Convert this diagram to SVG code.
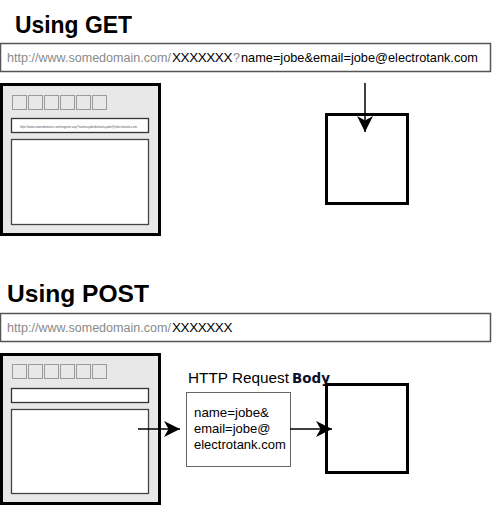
<svg xmlns="http://www.w3.org/2000/svg" width="500" height="525" viewBox="0 0 500 525">
<style>
.title{font-family:"Liberation Sans",Arial,sans-serif;font-weight:bold;font-size:24px;fill:#000}
.url{font-family:"Liberation Sans",Arial,sans-serif;font-size:12.5px;fill:#8a8a8a}
.xs{font-family:"Liberation Sans",Arial,sans-serif;font-size:13px;fill:#000;letter-spacing:-0.4px}
.blk{font-family:"Liberation Sans",Arial,sans-serif;font-size:13px;fill:#000}
.bar{fill:#fff;stroke:#555;stroke-width:1.5}
.frame{fill:#e8e8e8;stroke:#000;stroke-width:3}
.tab{fill:#e8e8e8;stroke:#9a9a9a;stroke-width:1}
.addr{fill:#fff;stroke:#333;stroke-width:1.3}
.content{fill:#fff;stroke:#444;stroke-width:1.3}
.server{fill:#fff;stroke:#000;stroke-width:3}
.conn{stroke:#000;stroke-width:1.5;fill:none}
.req{fill:#fff;stroke:#666;stroke-width:1}
.lbl{font-family:"Liberation Sans",Arial,sans-serif;font-size:15.3px;fill:#000}
.body{font-family:"DejaVu Sans",Tahoma,sans-serif;font-weight:bold;font-size:13.5px;fill:#0a1030}
</style>
<defs>
<marker id="arr" markerUnits="userSpaceOnUse" markerWidth="16" markerHeight="16" viewBox="0 0 14 14" refX="14" refY="7" orient="auto">
<path d="M0,0 L14,7 L0,14 L4,7 z" fill="#000"/>
</marker>
</defs>

<g id="get-title"><text class="title" x="15" y="33" textLength="117" lengthAdjust="spacingAndGlyphs">Using GET</text></g>

<g id="get-url">
<rect class="bar" x="0.5" y="43.5" width="490" height="28"/>
<text class="url" x="7" y="62" textLength="164" lengthAdjust="spacingAndGlyphs">http://www.somedomain.com/</text>
<text class="xs" x="172" y="62" textLength="60" lengthAdjust="spacingAndGlyphs">XXXXXXX</text>
<text class="url" x="233" y="62">?</text>
<text class="blk" x="241" y="62" textLength="237" lengthAdjust="spacingAndGlyphs">name=jobe&amp;email=jobe@electrotank.com</text>
</g>

<g id="get-browser">
<rect class="frame" x="1.5" y="84.5" width="158" height="150"/>
<rect class="tab" x="12.5" y="95.5" width="14" height="14"/>
<rect class="tab" x="28.5" y="95.5" width="14" height="14"/>
<rect class="tab" x="44.5" y="95.5" width="14" height="14"/>
<rect class="tab" x="60.5" y="95.5" width="14" height="14"/>
<rect class="tab" x="76.5" y="95.5" width="14" height="14"/>
<rect class="tab" x="92.5" y="95.5" width="14" height="14"/>
<rect class="addr" x="11.5" y="118.5" width="137" height="14"/>
<text x="20" y="127.5" font-family="Liberation Sans,Arial,sans-serif" font-size="3.5" fill="#555" textLength="117" lengthAdjust="spacingAndGlyphs">http://www.somedomain.com/register.asp?name=jobe&amp;email=jobe@electrotank.com</text>
<rect class="content" x="11.5" y="139.5" width="137" height="85"/>
</g>

<g id="get-server"><rect class="server" x="326.5" y="114.5" width="81" height="89"/></g>

<g id="post-title"><text class="title" x="7" y="302" textLength="142" lengthAdjust="spacingAndGlyphs">Using POST</text></g>

<g id="post-url">
<rect class="bar" x="0.5" y="313.5" width="490" height="28"/>
<text class="url" x="7" y="332" textLength="164" lengthAdjust="spacingAndGlyphs">http://www.somedomain.com/</text>
<text class="xs" x="172" y="332" textLength="60" lengthAdjust="spacingAndGlyphs">XXXXXXX</text>
</g>

<g id="post-browser">
<rect class="frame" x="1.5" y="354.5" width="158" height="149"/>
<rect class="tab" x="12.5" y="364.5" width="14" height="14"/>
<rect class="tab" x="28.5" y="364.5" width="14" height="14"/>
<rect class="tab" x="44.5" y="364.5" width="14" height="14"/>
<rect class="tab" x="60.5" y="364.5" width="14" height="14"/>
<rect class="tab" x="76.5" y="364.5" width="14" height="14"/>
<rect class="tab" x="92.5" y="364.5" width="14" height="14"/>
<rect class="addr" x="11.5" y="388.5" width="137" height="14"/>
<rect class="content" x="11.5" y="409.5" width="137" height="84"/>
</g>

<g id="http-request">
<text class="lbl" x="188" y="383" textLength="101" lengthAdjust="spacingAndGlyphs">HTTP Request</text>
<text class="body" x="292" y="383" textLength="38" lengthAdjust="spacingAndGlyphs">Body</text>
<rect class="req" x="186.5" y="392.5" width="104" height="74"/>
<text class="blk" x="194" y="417" font-size="13.5" textLength="75" lengthAdjust="spacingAndGlyphs">name=jobe&amp;</text>
<text class="blk" x="194" y="433" font-size="13.5">email=jobe@</text>
<text class="blk" x="194" y="449" font-size="13.5">electrotank.com</text>
</g>

<g id="post-server"><rect class="server" x="326.5" y="384.5" width="81" height="88"/></g>

<g id="connectors">
<line class="conn" x1="365" y1="83" x2="365" y2="132" marker-end="url(#arr)"/>
<line class="conn" x1="138" y1="429" x2="180" y2="429" marker-end="url(#arr)"/>
<line class="conn" x1="290" y1="429" x2="332" y2="429" marker-end="url(#arr)"/>
</g>
</svg>
